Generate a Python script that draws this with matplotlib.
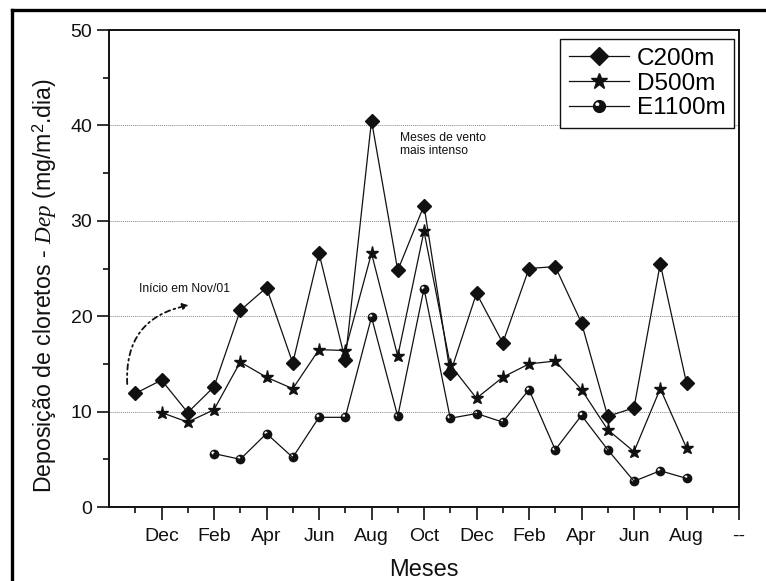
import matplotlib
matplotlib.use("Agg")
import matplotlib.pyplot as plt
import numpy as np
from matplotlib.lines import Line2D
from matplotlib.path import Path

plt.rcParams["font.family"] = ["Liberation Sans", "DejaVu Sans"]
plt.rcParams["mathtext.fontset"] = "custom"
plt.rcParams["mathtext.rm"] = "Liberation Sans"
plt.rcParams["mathtext.it"] = "Liberation Serif:italic"

# Monthly axis from Oct/01 to Oct/03 (index 0 .. 24)
month_names = ["Oct", "Nov", "Dec", "Jan", "Feb", "Mar", "Apr", "May", "Jun", "Jul",
               "Aug", "Sep", "Oct", "Nov", "Dec", "Jan", "Feb", "Mar", "Apr", "May",
               "Jun", "Jul", "Aug", "Sep", "--"]

# Chloride deposition (mg/m².dia) per site
c200_start = 1   # Nov/01
c200 = [11.9, 13.3, 9.9, 12.6, 20.6, 23.0, 15.1, 26.6, 15.4, 40.5, 24.8,
        31.6, 14.0, 22.4, 17.2, 25.0, 25.2, 19.3, 9.5, 10.4, 25.5, 13.0]
d500_start = 2   # Dec/01
d500 = [9.9, 8.9, 10.2, 15.2, 13.6, 12.4, 16.5, 16.4, 26.6, 15.8, 28.9,
        14.9, 11.4, 13.6, 15.0, 15.3, 12.3, 8.1, 5.8, 12.4, 6.2]
e1100_start = 4  # Feb/02
e1100 = [5.6, 5.0, 7.7, 5.2, 9.4, 9.4, 19.9, 9.5, 22.9, 9.3, 9.8,
         8.9, 12.3, 6.0, 9.6, 6.0, 2.7, 3.8, 3.0]

ink = "#111111"


def sphere_marker():
    """Filled disc with a small offset hole acting as a shine highlight."""
    outer = Path.unit_circle()
    hole = Path.circle(center=(-0.33, 0.33), radius=0.3)
    hv = hole.vertices[:-1][::-1]
    hv = np.vstack([hv, hv[:1]])
    hc = [Path.MOVETO] + [Path.CURVE4] * (len(hv) - 2) + [Path.CLOSEPOLY]
    return Path.make_compound_path(outer, Path(hv, hc))


SPHERE = sphere_marker()

fig = plt.figure(figsize=(7.66, 5.81), dpi=100)
ax = fig.add_axes([109 / 766, 1 - 507 / 581, 630 / 766, 477 / 581])

xc = list(range(c200_start, c200_start + len(c200)))
xd = list(range(d500_start, d500_start + len(d500)))
xe = list(range(e1100_start, e1100_start + len(e1100)))

style = dict(color=ink, lw=0.9, mfc=ink, mec=ink, zorder=3)
ax.plot(xc, c200, marker="D", ms=7, label="C200m", **style)
ax.plot(xd, d500, marker="*", ms=9.5, label="D500m", **style)
ax.plot(xe, e1100, marker=SPHERE, ms=7, mew=0, label="E1100m", **style)

# legend handles drawn a little larger than the plotted markers
h_c = Line2D([], [], marker="D", ms=9, **style)
h_d = Line2D([], [], marker="*", ms=12, **style)
h_e = Line2D([], [], marker=SPHERE, ms=9.5, mew=0, **style)
leg = ax.legend([h_c, h_d, h_e], ["C200m", "D500m", "E1100m"],
                loc="upper right", bbox_to_anchor=(0.992, 0.981),
                fontsize=17.5, handlelength=2.5, handletextpad=0.3,
                labelspacing=0.12, borderpad=0.35, borderaxespad=0,
                fancybox=False, framealpha=1, edgecolor=ink)
leg.get_frame().set_linewidth(1.0)

ax.set_xlim(0, 24)
ax.set_ylim(0, 50)
ax.set_xticks(range(2, 25, 2))
ax.set_xticklabels([month_names[i] for i in range(2, 25, 2)])
ax.set_xticks(range(1, 24, 2), minor=True)
ax.set_yticks(range(0, 51, 10))
ax.set_yticks(range(5, 50, 10), minor=True)

ax.tick_params(axis="both", which="major", direction="out", length=9,
               width=1.2, color=ink, labelsize=14, labelcolor=ink)
ax.tick_params(axis="both", which="minor", direction="out", length=4.5,
               width=1.2, color=ink)
ax.tick_params(axis="x", which="major", pad=6)
ax.tick_params(axis="y", which="major", pad=3)

for s in ax.spines.values():
    s.set_linewidth(1.4)
    s.set_color(ink)

ax.yaxis.grid(True, color="#8a8a8a", lw=0.7, ls=(0, (1, 1)))
ax.set_axisbelow(True)

ax.set_xlabel("Meses", fontsize=17, color=ink)
ax.xaxis.set_label_coords(0.5, -0.108)
ax.set_ylabel(r"Deposição de cloretos - $\it{Dep}$ (mg/m$^2$.dia)",
              fontsize=16.7, color=ink)
ax.yaxis.set_label_coords(-0.079, 0.464)

ax.text(1.15, 22.9, "Início em Nov/01", fontsize=8.7, color=ink,
        ha="left", va="center")
ax.annotate("", xy=(3.15, 21.2), xytext=(0.7, 12.6),
            arrowprops=dict(arrowstyle="-|>", color=ink, lw=1.3,
                            ls=(0, (3, 2, 1, 2)),
                            connectionstyle="arc3,rad=-0.45",
                            mutation_scale=9))

ax.text(11.1, 38.0, "Meses de vento\nmais intenso", fontsize=8.7, color=ink,
        ha="left", va="center", linespacing=1.2)

# page frame (left and top edges)
fig.add_artist(Line2D([12 / 766, 12 / 766], [0, 1 - 10 / 581],
                      transform=fig.transFigure, color="black", lw=2.4))
fig.add_artist(Line2D([12 / 766, 1], [1 - 10 / 581, 1 - 10 / 581],
                      transform=fig.transFigure, color="black", lw=2.4))

fig.savefig("out.png", dpi=100, facecolor="white")
